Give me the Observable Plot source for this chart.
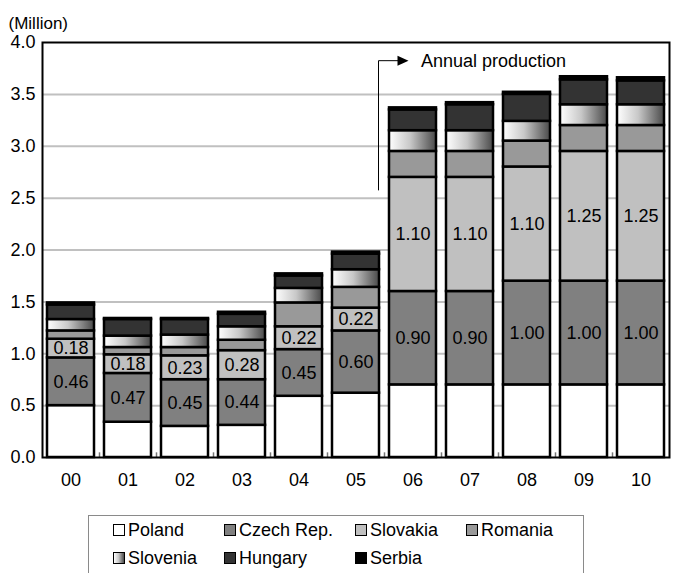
<!DOCTYPE html>
<html>
<head>
<meta charset="utf-8">
<script src="https://cdn.jsdelivr.net/npm/d3@7"></script>
<script src="https://cdn.jsdelivr.net/npm/@observablehq/plot@0.6"></script>
<style>
  body { margin: 0; background: #fff; font-family: "Liberation Sans", Arial, sans-serif; }
  #chart svg { display: block; }
  .legend { position: absolute; left: 88px; top: 515px; width: 494px; height: 80px;
            border: 1.5px solid #8a8a8a; border-bottom: none; }
  .item { position: absolute; display: flex; align-items: center; font-size: 18px; line-height: 18px; color: #000; white-space: nowrap; }
  .sw { width: 10px; height: 10px; border: 1.5px solid #000; margin-right: 3px; }
</style>
</head>
<body>
<div id="chart"></div>
<div id="legend"></div>
<script>
// Car production in Central & Eastern Europe, million units per year
const years = ["00", "01", "02", "03", "04", "05", "06", "07", "08", "09", "10"];
const countries = ["Poland", "Czech Rep.", "Slovakia", "Romania", "Slovenia", "Hungary", "Serbia"];

const poland   = [0.50, 0.34, 0.30, 0.31, 0.59, 0.62, 0.70, 0.70, 0.70, 0.70, 0.70];
const czech    = [0.46, 0.47, 0.45, 0.44, 0.45, 0.60, 0.90, 0.90, 1.00, 1.00, 1.00];
const slovakia = [0.18, 0.18, 0.23, 0.28, 0.22, 0.22, 1.10, 1.10, 1.10, 1.25, 1.25];
const romania  = [0.08, 0.07, 0.08, 0.10, 0.23, 0.20, 0.25, 0.25, 0.25, 0.25, 0.25];
const slovenia = [0.11, 0.11, 0.12, 0.13, 0.14, 0.17, 0.20, 0.20, 0.19, 0.20, 0.20];
const hungary  = [0.14, 0.16, 0.15, 0.12, 0.12, 0.15, 0.20, 0.25, 0.26, 0.24, 0.23];
const serbia   = [0.02, 0.01, 0.01, 0.02, 0.02, 0.02, 0.02, 0.02, 0.02, 0.03, 0.03];

const series = [poland, czech, slovakia, romania, slovenia, hungary, serbia];
const labelled = ["Czech Rep.", "Slovakia"];   // segments that carry their value

const yTicks = [0, 0.5, 1, 1.5, 2, 2.5, 3, 3.5, 4];
const unitLabel = "(Million)";
const noteText = "Annual production";
const noteYear = "06";
const noteTop = 3.82;
const noteBottom = 2.57;

const fills = ["#ffffff", "#808080", "#c0c0c0", "#999999", "url(#slovenia-grad)", "#333333", "#000000"];
const swatchCss = ["#ffffff", "#808080", "#c0c0c0", "#999999",
                   "linear-gradient(to right, #ffffff, #c8c8c8 45%, #4a4a4a)", "#333333", "#000000"];

const rows = [];
years.forEach((year, i) => {
  countries.forEach((country, j) => {
    const value = series[j][i];
    rows.push({year, country, value, label: labelled.includes(country) ? value.toFixed(2) : ""});
  });
});

// horizontal white-to-dark shading used for Slovenia
const gradientDefs = () => {
  const defs = d3.create("svg:defs");
  const g = defs.append("linearGradient").attr("id", "slovenia-grad")
    .attr("x1", "0").attr("x2", "1").attr("y1", "0").attr("y2", "0");
  g.append("stop").attr("offset", "0%").attr("stop-color", "#ffffff");
  g.append("stop").attr("offset", "45%").attr("stop-color", "#c8c8c8");
  g.append("stop").attr("offset", "100%").attr("stop-color", "#4a4a4a");
  return defs.node();
};

// elbow arrow pointing at the stacked totals
const noteArrow = (index, scales) => {
  const x = scales.x, y = scales.y;
  const cx = x(noteYear) + x.bandwidth() / 2;
  const left = cx - 34, tip = cx - 4;
  const yt = y(noteTop), yb = y(noteBottom);
  const g = d3.create("svg:g");
  g.append("path")
    .attr("d", `M${left},${yb}V${yt}H${tip - 9}`)
    .attr("fill", "none").attr("stroke", "#000").attr("stroke-width", 1);
  g.append("path")
    .attr("d", `M${tip - 11},${yt - 5}L${tip},${yt}L${tip - 11},${yt + 5}Z`)
    .attr("fill", "#000");
  return g.node();
};

const chart = Plot.plot({
  width: 675,
  height: 505,
  marginTop: 42,
  marginBottom: 48,
  marginLeft: 42,
  marginRight: 6,
  style: {fontFamily: "'Liberation Sans', Arial, sans-serif", fontSize: "18px", color: "#000", background: "#fff"},
  x: {type: "band", domain: years, paddingInner: 0.17, paddingOuter: 0.085, label: null, tickSize: 0, tickPadding: 16},
  y: {domain: [0, 4], ticks: yTicks, tickFormat: d3.format(".1f"), label: null, tickSize: 0, tickPadding: 7},
  color: {type: "ordinal", domain: countries, range: fills},
  marks: [
    gradientDefs,
    Plot.ruleY(yTicks.filter(t => t > 0 && t < 4), {stroke: "#c0c0c0", strokeWidth: 2}),
    Plot.barY(rows, Plot.stackY({x: "year", y: "value", fill: "country", stroke: "#000", strokeWidth: 2.5})),
    Plot.text(rows, Plot.stackY({x: "year", y: "value", z: "country", text: "label", fontSize: 18})),
    Plot.ruleX(years.slice(1), {x: d => d, dx: -28.5, y1: 0, y2: 0.045, stroke: "#777", strokeWidth: 1.5}),
    Plot.frame({stroke: "#000", strokeWidth: 2}),
    noteArrow,
    Plot.text([noteText], {x: () => noteYear, y: () => noteTop, text: d => d, textAnchor: "start", dx: 8, fontSize: 18}),
    Plot.text([unitLabel], {frameAnchor: "top-left", text: d => d, textAnchor: "start", dx: -34, dy: -26, fontSize: 17})
  ]
});
document.getElementById("chart").append(chart);

// legend, two rows below the chart
const legendPos = [[113, 530], [224, 530], [355, 530], [466, 530], [113, 558], [224, 558], [355, 558]];
d3.select("#legend").append("div").attr("class", "legend");
countries.forEach((c, i) => {
  const item = d3.select("body").append("div").attr("class", "item")
    .style("left", legendPos[i][0] + "px").style("top", (legendPos[i][1] - 9) + "px");
  item.append("span").attr("class", "sw").style("background", swatchCss[i]);
  item.append("span").text(c);
});
</script>
</body>
</html>
